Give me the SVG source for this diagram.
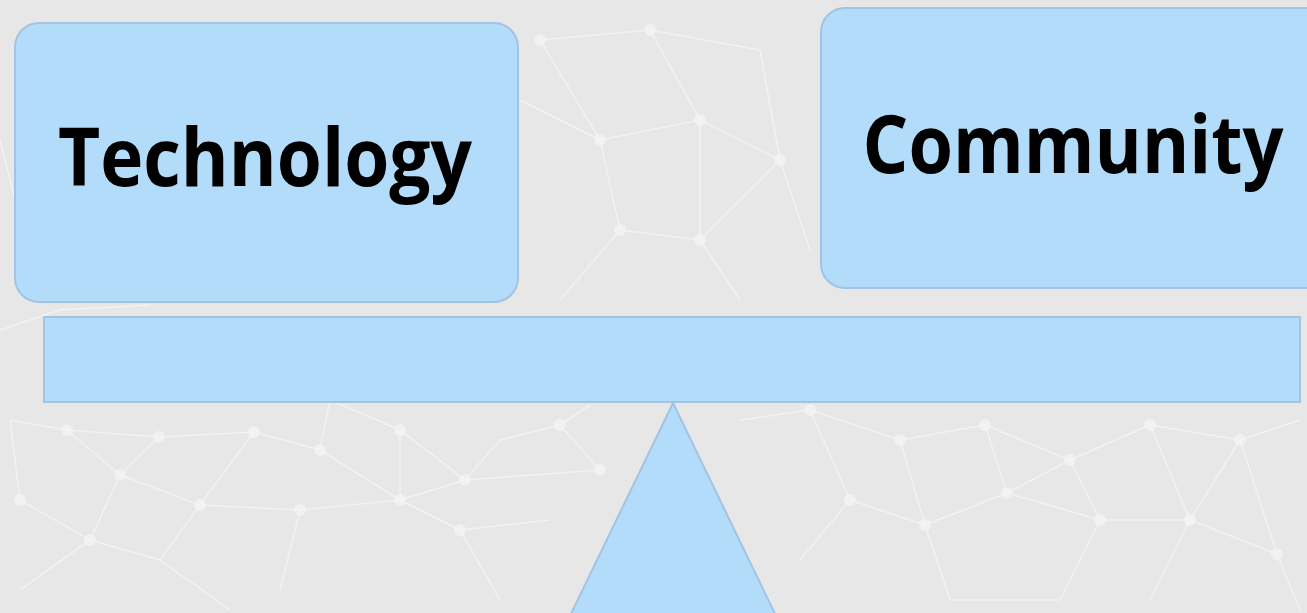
<svg xmlns="http://www.w3.org/2000/svg" width="1307" height="613" viewBox="0 0 1307 613">
<style>
.bg{fill:#e7e7e7}
.net line{stroke:#f8f8f8;stroke-width:1.6;opacity:.65}
.net circle{fill:#f4f4f4;opacity:.75}
.shape{fill:#b3dcfa;stroke:#a3c3e2;stroke-width:2}
.lbl{font-family:"Open Sans","Liberation Sans",sans-serif;font-weight:bold;font-size:80px;fill:#000}
</style>
<rect class="bg" x="0" y="0" width="1307" height="613"/>
<g class="net">
<line x1="10" y1="420" x2="67" y2="430"/><line x1="67" y1="430" x2="159" y2="437"/><line x1="159" y1="437" x2="254" y2="432"/>
<line x1="67" y1="430" x2="120" y2="475"/><line x1="120" y1="475" x2="200" y2="505"/><line x1="159" y1="437" x2="120" y2="475"/>
<line x1="254" y1="432" x2="200" y2="505"/><line x1="200" y1="505" x2="160" y2="560"/><line x1="120" y1="475" x2="90" y2="540"/>
<line x1="90" y1="540" x2="160" y2="560"/><line x1="254" y1="432" x2="320" y2="450"/><line x1="320" y1="450" x2="400" y2="500"/>
<line x1="200" y1="505" x2="300" y2="510"/><line x1="300" y1="510" x2="400" y2="500"/><line x1="400" y1="500" x2="460" y2="530"/>
<line x1="320" y1="450" x2="330" y2="400"/><line x1="330" y1="400" x2="400" y2="430"/><line x1="400" y1="430" x2="400" y2="500"/>
<line x1="400" y1="430" x2="465" y2="480"/><line x1="465" y1="480" x2="400" y2="500"/><line x1="465" y1="480" x2="500" y2="440"/>
<line x1="500" y1="440" x2="560" y2="425"/><line x1="560" y1="425" x2="600" y2="470"/><line x1="600" y1="470" x2="465" y2="480"/>
<line x1="300" y1="510" x2="280" y2="590"/><line x1="160" y1="560" x2="230" y2="610"/><line x1="460" y1="530" x2="500" y2="600"/>
<line x1="460" y1="530" x2="550" y2="520"/><line x1="90" y1="540" x2="20" y2="590"/><line x1="10" y1="420" x2="20" y2="500"/>
<line x1="20" y1="500" x2="90" y2="540"/><line x1="560" y1="425" x2="590" y2="405"/>
<line x1="740" y1="420" x2="810" y2="410"/><line x1="810" y1="410" x2="900" y2="440"/><line x1="900" y1="440" x2="985" y2="425"/>
<line x1="985" y1="425" x2="1070" y2="460"/><line x1="1070" y1="460" x2="1150" y2="425"/><line x1="1150" y1="425" x2="1240" y2="440"/>
<line x1="1240" y1="440" x2="1300" y2="420"/><line x1="900" y1="440" x2="925" y2="525"/><line x1="925" y1="525" x2="1007" y2="493"/>
<line x1="1007" y1="493" x2="1070" y2="460"/><line x1="1007" y1="493" x2="1100" y2="520"/><line x1="1100" y1="520" x2="1190" y2="520"/>
<line x1="1190" y1="520" x2="1240" y2="440"/><line x1="1190" y1="520" x2="1277" y2="554"/><line x1="1277" y1="554" x2="1240" y2="440"/>
<line x1="1070" y1="460" x2="1100" y2="520"/><line x1="810" y1="410" x2="850" y2="500"/><line x1="850" y1="500" x2="925" y2="525"/>
<line x1="850" y1="500" x2="800" y2="560"/><line x1="925" y1="525" x2="950" y2="600"/><line x1="1100" y1="520" x2="1060" y2="600"/>
<line x1="1190" y1="520" x2="1150" y2="600"/><line x1="1277" y1="554" x2="1300" y2="610"/><line x1="950" y1="600" x2="1060" y2="600"/>
<line x1="985" y1="425" x2="1007" y2="493"/><line x1="1150" y1="425" x2="1190" y2="520"/>
<line x1="520" y1="100" x2="600" y2="140"/><line x1="600" y1="140" x2="700" y2="120"/><line x1="700" y1="120" x2="780" y2="160"/>
<line x1="600" y1="140" x2="620" y2="230"/><line x1="620" y1="230" x2="700" y2="240"/><line x1="700" y1="240" x2="780" y2="160"/>
<line x1="700" y1="120" x2="700" y2="240"/><line x1="540" y1="40" x2="600" y2="140"/><line x1="540" y1="40" x2="650" y2="30"/>
<line x1="650" y1="30" x2="700" y2="120"/><line x1="650" y1="30" x2="760" y2="50"/><line x1="760" y1="50" x2="780" y2="160"/>
<line x1="620" y1="230" x2="560" y2="300"/><line x1="700" y1="240" x2="740" y2="300"/><line x1="780" y1="160" x2="810" y2="250"/>
<line x1="0" y1="140" x2="15" y2="200"/><line x1="0" y1="330" x2="60" y2="310"/><line x1="60" y1="310" x2="150" y2="305"/>
</g>
<g class="net">
<circle cx="67" cy="430" r="6"/><circle cx="159" cy="437" r="6"/><circle cx="254" cy="432" r="6"/><circle cx="120" cy="475" r="6"/>
<circle cx="200" cy="505" r="6"/><circle cx="90" cy="540" r="6"/><circle cx="320" cy="450" r="6"/><circle cx="400" cy="500" r="6"/>
<circle cx="400" cy="430" r="6"/><circle cx="465" cy="480" r="6"/><circle cx="300" cy="510" r="6"/><circle cx="560" cy="425" r="6"/>
<circle cx="600" cy="470" r="6"/><circle cx="460" cy="530" r="6"/><circle cx="20" cy="500" r="6"/>
<circle cx="810" cy="410" r="6"/><circle cx="900" cy="440" r="6"/><circle cx="985" cy="425" r="6"/><circle cx="1070" cy="460" r="6"/>
<circle cx="1150" cy="425" r="6"/><circle cx="1240" cy="440" r="6"/><circle cx="925" cy="525" r="6"/><circle cx="1007" cy="493" r="6"/>
<circle cx="1100" cy="520" r="6"/><circle cx="1190" cy="520" r="6"/><circle cx="1277" cy="554" r="6"/><circle cx="850" cy="500" r="6"/>
<circle cx="600" cy="140" r="6"/><circle cx="700" cy="120" r="6"/><circle cx="780" cy="160" r="6"/><circle cx="620" cy="230" r="6"/>
<circle cx="700" cy="240" r="6"/><circle cx="540" cy="40" r="6"/><circle cx="650" cy="30" r="6"/>
</g>
<g id="technology">
<rect class="shape" x="15" y="23" width="503" height="279" rx="24"/>
<text class="lbl" x="265" y="186" text-anchor="middle" textLength="414" lengthAdjust="spacingAndGlyphs">Technology</text>
</g>
<g id="community">
<rect class="shape" x="821" y="8" width="510" height="280" rx="24"/>
<text class="lbl" x="1073" y="173" text-anchor="middle" textLength="421" lengthAdjust="spacingAndGlyphs">Community</text>
</g>
<g id="beam">
<rect class="shape" x="44" y="317" width="1256" height="85"/>
</g>
<g id="fulcrum">
<polygon class="shape" points="673,403 778,620 568,620"/>
</g>
<g id="connectors"></g>
</svg>
